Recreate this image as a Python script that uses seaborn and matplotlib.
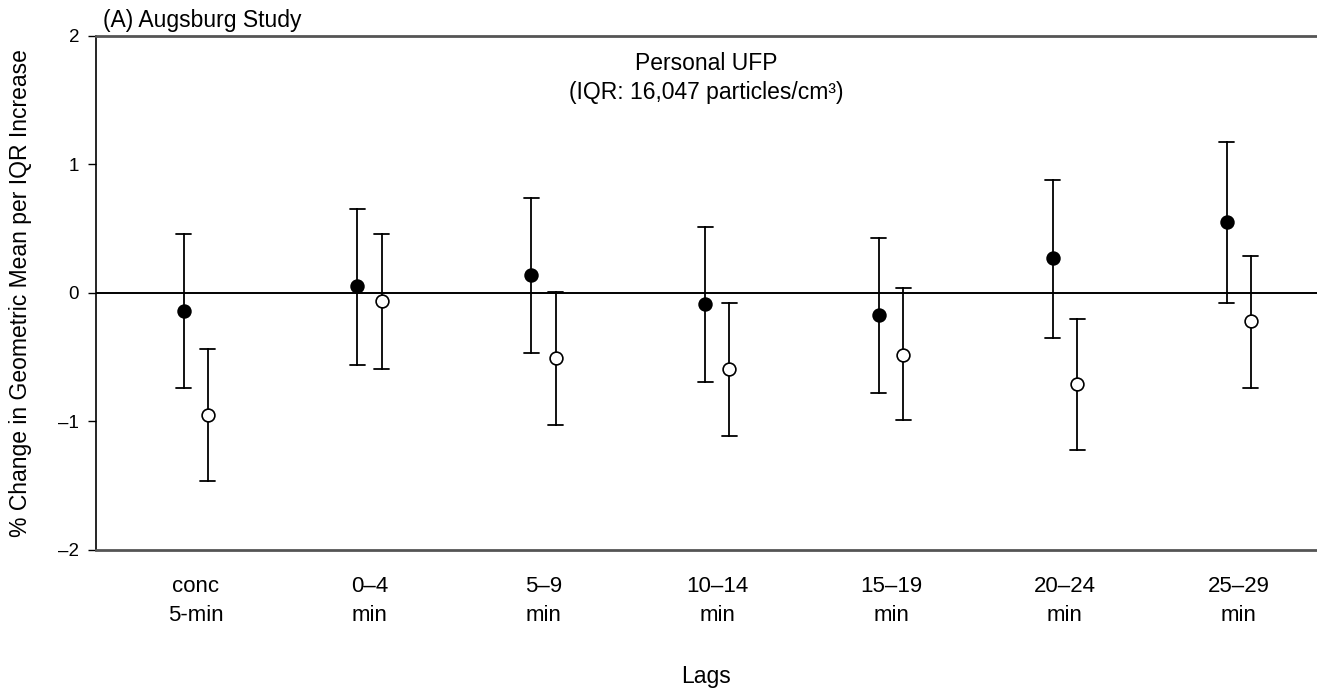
"""
Augsburg study: % change in geometric mean per IQR increase of personal UFP,
by lag (two model estimates per lag, filled and open circles)
"""
import numpy as np
import pandas as pd
import matplotlib
matplotlib.use('Agg')
import matplotlib.pyplot as plt
import seaborn as sns

# 數據
lags = ['conc', '0-4', '5-9', '10-14', '15-19', '20-24', '25-29']
lag_labels = ['conc\n5-min', '0–4\nmin', '5–9\nmin', '10–14\nmin',
              '15–19\nmin', '20–24\nmin', '25–29\nmin']

est_filled = [-0.14, 0.05, 0.14, -0.09, -0.17, 0.27, 0.55]
lo_filled = [-0.74, -0.56, -0.47, -0.69, -0.78, -0.35, -0.08]
hi_filled = [0.46, 0.65, 0.74, 0.51, 0.43, 0.88, 1.17]

est_open = [-0.95, -0.06, -0.51, -0.59, -0.48, -0.71, -0.22]
lo_open = [-1.46, -0.59, -1.03, -1.11, -0.99, -1.22, -0.74]
hi_open = [-0.44, 0.46, 0.01, -0.08, 0.04, -0.20, 0.29]

y_ticks = [-2, -1, 0, 1, 2]
y_tick_labels = ['–2', '–1', '0', '1', '2']


def long_table():
    """lower / estimate / upper as three rows per lag and series"""
    rows = []
    for name, est, lo, hi in [('filled', est_filled, lo_filled, hi_filled),
                              ('open', est_open, lo_open, hi_open)]:
        for lag, e, l, h in zip(lags, est, lo, hi):
            for v in (l, e, h):
                rows.append({'lag': lag, 'series': name, 'value': v})
    return pd.DataFrame(rows)


df = long_table()

sns.set_theme(style='ticks')
plt.rcParams['font.family'] = ['Liberation Sans', 'DejaVu Sans']
for key in ['text.color', 'axes.labelcolor', 'xtick.color', 'ytick.color']:
    plt.rcParams[key] = 'black'

fig = plt.figure(figsize=(13.17, 6.96), dpi=100)
ax = fig.add_axes([0.0727, 0.2098, 0.9273, 0.7389])

sns.pointplot(
    data=df, x='lag', y='value', hue='series',
    order=lags, hue_order=['filled', 'open'],
    palette=['black', 'black'],
    estimator='median',
    errorbar=lambda v: (np.min(v), np.max(v)),
    dodge=0.14, linestyle='none', markers='o',
    markersize=9.2, markeredgewidth=1.2,
    capsize=0.086, err_kws={'linewidth': 1.3},
    legend=False, ax=ax,
)

# 空心圓 on top of its error bar
pts = [l for l in ax.lines if l.get_marker() == 'o']
for p in pts:
    p.set_zorder(5)
pts[1].set_markerfacecolor('white')
pts[1].set_markeredgecolor('black')

ax.axhline(0, color='black', linewidth=1.4, zorder=1)

ax.set_xlim(-0.575, 6.45)
ax.set_ylim(-2, 2)
ax.set_yticks(y_ticks)
ax.set_yticklabels(y_tick_labels, fontsize=13.5)
ax.set_xticks(range(len(lags)))
ax.set_xticklabels(lag_labels, fontsize=16, linespacing=1.5)
ax.tick_params(axis='x', length=0, pad=19)
ax.tick_params(axis='y', length=6, width=1, pad=6)

for side in ['top', 'bottom']:
    ax.spines[side].set_color('#555555')
    ax.spines[side].set_linewidth(2)
ax.spines['left'].set_color('black')
ax.spines['left'].set_linewidth(1.2)
ax.spines['right'].set_visible(False)

ax.set_xlabel('Lags', fontsize=16.5, labelpad=28)
ax.set_ylabel('% Change in Geometric Mean per IQR Increase', fontsize=16.5)
ax.yaxis.set_label_coords(-0.052, 0.5)

fig.text(103 / 1317, 1 - 27 / 696, '(A) Augsburg Study',
         fontsize=16.5, ha='left', va='baseline')
ax.text(0.5, 0.968, 'Personal UFP\n(IQR: 16,047 particles/cm³)',
        transform=ax.transAxes, fontsize=16.5, ha='center', va='top',
        linespacing=1.3)

plt.savefig('out.png', dpi=100)
